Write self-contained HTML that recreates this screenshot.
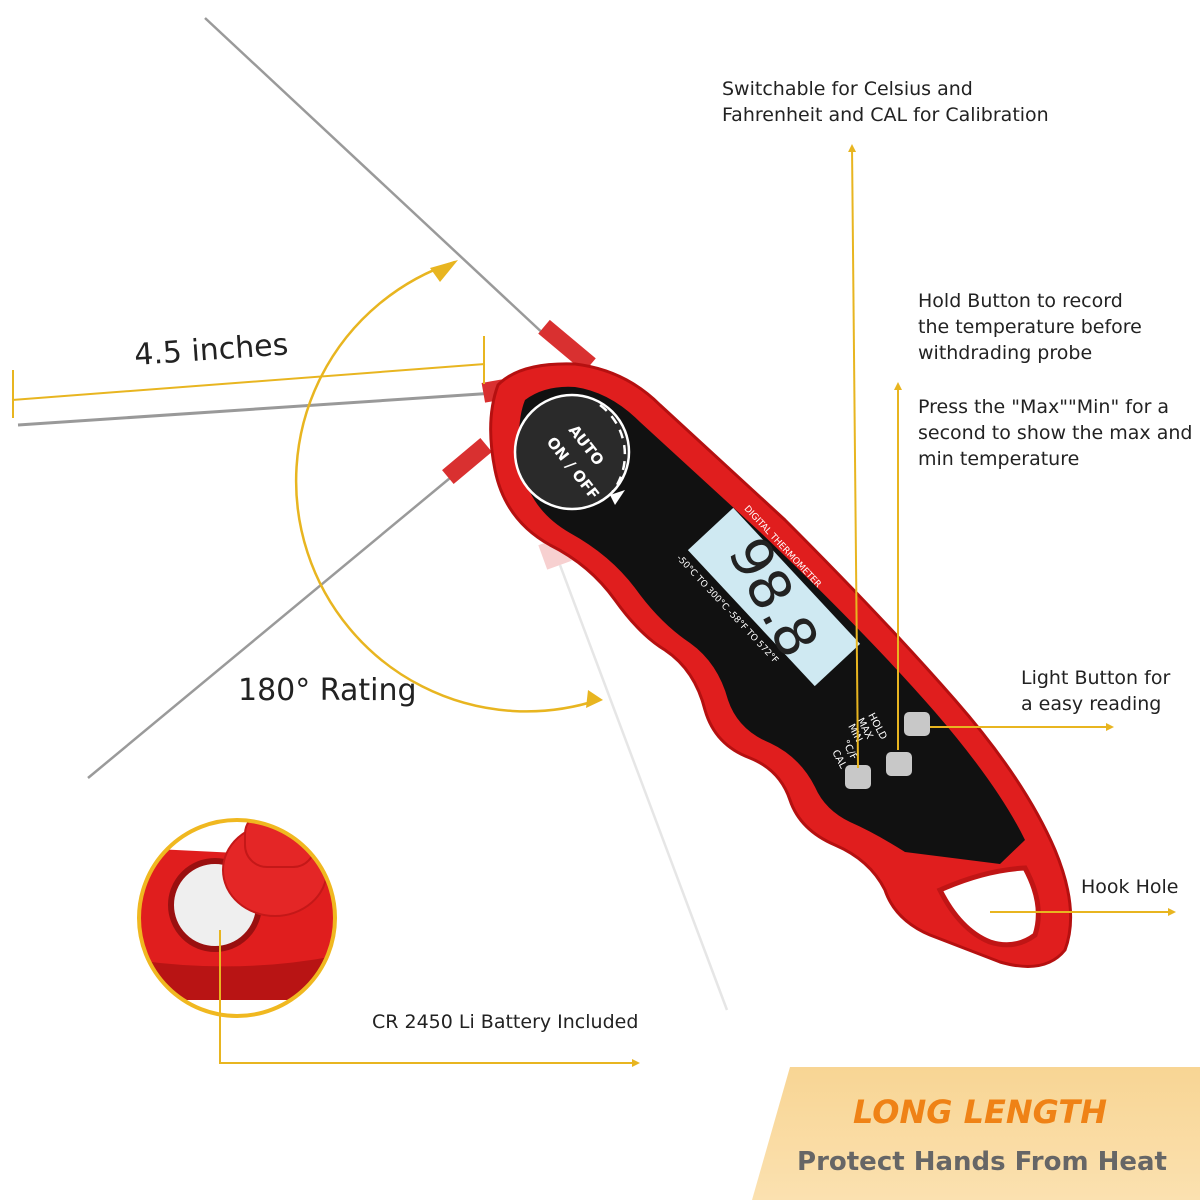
<!DOCTYPE html>
<html><head><meta charset="utf-8"><style>
html,body{margin:0;padding:0;background:#fff;}
svg{display:block;}
text{font-family:"DejaVu Sans","Liberation Sans",sans-serif;}
</style></head><body>
<svg width="1200" height="1200" viewBox="0 0 1200 1200" xmlns="http://www.w3.org/2000/svg">
<defs>
<marker id="ah" markerWidth="8" markerHeight="8" refX="6" refY="4" orient="auto" markerUnits="userSpaceOnUse"><path d="M0,0 L8,4 L0,8 Z" fill="#e8b520"/></marker>
<linearGradient id="ban" x1="0" y1="0" x2="0" y2="1"><stop offset="0" stop-color="#f8d594"/><stop offset="1" stop-color="#fbe1b0"/></linearGradient>
<clipPath id="bc"><circle cx="237" cy="918" r="98"/></clipPath>
</defs>
<rect width="1200" height="1200" fill="#fff"/>
<!-- probes -->
<line x1="205" y1="18" x2="548" y2="338" stroke="#9a9a9a" stroke-width="2.5"/>
<line x1="18" y1="425" x2="495" y2="393" stroke="#999" stroke-width="3"/>
<line x1="88" y1="778" x2="450" y2="478" stroke="#9a9a9a" stroke-width="2.5"/>
<line x1="560" y1="565" x2="727" y2="1010" stroke="#e6e6e6" stroke-width="2.5"/>
<rect x="542" y="540" width="26" height="26" fill="#f7d0d0" transform="rotate(-20 555 553)"/>
<!-- probe hinges -->
<rect x="537" y="337" width="60" height="18" fill="#d93030" transform="rotate(40 567 346)"/>
<rect x="483" y="379" width="45" height="20" fill="#d93030" transform="rotate(-10 505 389)"/>
<rect x="442" y="452" width="50" height="18" fill="#d93030" transform="rotate(-40 467 461)"/>
<!-- 4.5 inches line -->
<line x1="12" y1="400" x2="485" y2="364" stroke="#e8b520" stroke-width="2"/>
<line x1="13" y1="370" x2="13" y2="418" stroke="#e8b520" stroke-width="2"/>
<line x1="484" y1="336" x2="484" y2="384" stroke="#e8b520" stroke-width="2"/>
<text x="135" y="365" font-size="30" fill="#222" transform="rotate(-4 135 365)">4.5 inches</text>
<!-- arc -->
<path d="M455 262 A230 230 0 0 0 598 700" fill="none" stroke="#e8b520" stroke-width="2.5"/>
<path d="M430 268 L458 260 L440 282 Z" fill="#e8b520"/>
<path d="M588 690 L603 700 L586 708 Z" fill="#e8b520"/>
<text x="238" y="700" font-size="30" fill="#222">180° Rating</text>
<!-- body -->
<path d="M498 385 Q520 362 575 364 Q625 370 660 405 L785 520 Q885 620 955 700 Q1025 780 1055 850 Q1080 910 1065 950 Q1045 975 1000 962 L930 935 Q895 920 885 890 Q870 860 835 845 Q800 830 790 800 Q780 770 750 758 Q715 745 705 710 Q695 670 665 650 Q640 635 615 600 Q590 565 550 545 Q505 520 495 470 Q485 420 498 385 Z" fill="#e01e1e" stroke="#b51010" stroke-width="3"/>
<path d="M525 400 Q545 385 575 387 Q610 392 640 422 L760 532 Q868 635 935 712 Q998 785 1025 840 L1000 864 L905 852 Q875 833 850 822 Q825 810 815 787 Q800 757 770 743 Q738 730 728 700 Q718 663 690 643 Q660 623 635 588 Q610 555 570 533 Q530 510 522 468 Q515 425 525 400 Z" fill="#111"/>
<path d="M940 890 Q985 870 1025 868 Q1045 905 1035 935 Q1015 950 990 942 Q960 930 940 890 Z" fill="#fff" stroke="#c01515" stroke-width="5"/>
<!-- auto circle -->
<circle cx="572" cy="452" r="57" fill="#2a2a2a" stroke="#fff" stroke-width="2.5"/>
<path d="M600 405 A62 62 0 0 1 610 495" fill="none" stroke="#fff" stroke-width="2.5" stroke-dasharray="9 7"/>
<path d="M610 495 L625 490 L615 505 Z" fill="#fff"/>
<text font-size="15" font-weight="bold" fill="#fff" transform="translate(568 430) rotate(52)">AUTO</text>
<text font-size="15" font-weight="bold" fill="#fff" transform="translate(546 442) rotate(52)">ON / OFF</text>
<!-- LCD -->
<g transform="translate(774 597) rotate(47)">
<rect x="-93" y="-31" width="186" height="62" fill="#cfe9f2"/>
<text x="0" y="0" font-size="56" font-family="Liberation Mono,monospace" fill="#222" text-anchor="middle" transform="rotate(15) translate(0 20)">98.8</text>
<text x="-85" y="-38" font-size="9" fill="#fff">DIGITAL  THERMOMETER</text>
<text x="-95" y="45" font-size="9" fill="#fff">-50°C TO 300°C -58°F TO 572°F</text>
</g>
<!-- buttons -->
<rect x="845" y="765" width="26" height="24" rx="5" fill="#c8c8c8"/>
<rect x="886" y="752" width="26" height="24" rx="5" fill="#c8c8c8"/>
<rect x="904" y="712" width="26" height="24" rx="5" fill="#c8c8c8"/>
<text font-size="10" fill="#fff" transform="translate(842 742) rotate(62)">°C/F</text>
<text font-size="10" fill="#fff" transform="translate(832 752) rotate(62)">CAL</text>
<text font-size="10" fill="#fff" transform="translate(868 715) rotate(62)">HOLD</text>
<text font-size="10" fill="#fff" transform="translate(857 720) rotate(62)">MAX</text>
<text font-size="10" fill="#fff" transform="translate(848 726) rotate(62)">MIN</text>
<!-- pointer lines -->
<line x1="858" y1="768" x2="852" y2="146" stroke="#e8b520" stroke-width="2" marker-end="url(#ah)"/>
<line x1="898" y1="750" x2="898" y2="384" stroke="#e8b520" stroke-width="2" marker-end="url(#ah)"/>
<line x1="930" y1="727" x2="1112" y2="727" stroke="#e8b520" stroke-width="2" marker-end="url(#ah)"/>
<line x1="990" y1="912" x2="1174" y2="912" stroke="#e8b520" stroke-width="2" marker-end="url(#ah)"/>
<polyline points="220,1016 220,1063 638,1063" fill="none" stroke="#e8b520" stroke-width="2" marker-end="url(#ah)"/>
<!-- labels -->
<g font-size="19" fill="#222">
<text x="722" y="95">Switchable for Celsius and</text>
<text x="722" y="121">Fahrenheit and CAL for Calibration</text>
<text x="918" y="307">Hold Button to record</text>
<text x="918" y="333">the temperature before</text>
<text x="918" y="359">withdrading probe</text>
<text x="918" y="413">Press the "Max""Min" for a</text>
<text x="918" y="439">second to show the max and</text>
<text x="918" y="465">min temperature</text>
<text x="1021" y="684">Light Button for</text>
<text x="1021" y="710">a easy reading</text>
<text x="1081" y="893">Hook Hole</text>
<text x="372" y="1028">CR 2450 Li Battery Included</text>
</g>
<!-- battery inset -->
<g clip-path="url(#bc)">
<rect x="130" y="810" width="220" height="220" fill="#fff"/>
<path d="M135 848 L340 858 L340 995 L135 995 Z" fill="#e01e1e"/>
<path d="M135 960 Q240 975 340 955 L340 1000 L135 1000 Z" fill="#b81414"/>
<circle cx="215" cy="905" r="44" fill="#efefef" stroke="#9a1010" stroke-width="6"/>
<ellipse cx="275" cy="870" rx="52" ry="46" fill="#e42626" stroke="#c41818" stroke-width="2"/>
<rect x="245" y="812" width="70" height="55" rx="22" fill="#e42626" stroke="#c41818" stroke-width="2"/>
</g>
<line x1="220" y1="930" x2="220" y2="1016" stroke="#e8b520" stroke-width="2"/>
<circle cx="237" cy="918" r="98" fill="none" stroke="#f0b820" stroke-width="4"/>
<!-- banner -->
<path d="M790 1067 L1200 1067 L1200 1200 L752 1200 Z" fill="url(#ban)"/>
<text x="980" y="1123" font-size="32" font-weight="bold" font-style="italic" fill="#ef8216" text-anchor="middle" font-family="Liberation Sans,sans-serif">LONG LENGTH</text>
<text x="982" y="1170" font-size="26" font-weight="bold" fill="#666" text-anchor="middle" font-family="Liberation Sans,sans-serif">Protect Hands From Heat</text>
</svg>
</body></html>
